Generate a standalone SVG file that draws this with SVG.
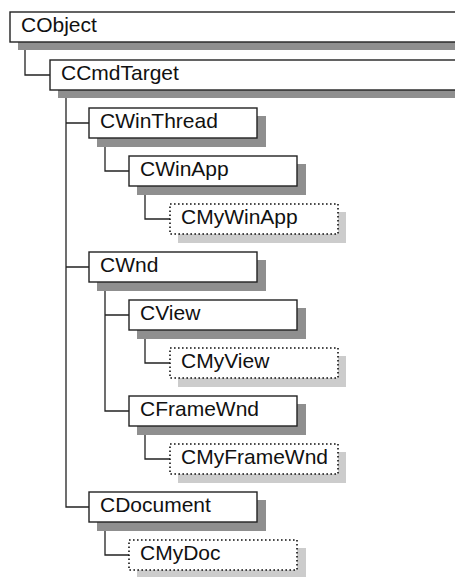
<svg xmlns="http://www.w3.org/2000/svg" width="455" height="577" viewBox="0 0 455 577">
<style>
.sh{fill:#8f8f8f}
.shl{fill:#cccccc}
.bx{fill:#fff;stroke:#222;stroke-width:1.4}
.dt{fill:#fff;stroke:#111;stroke-width:1.6;stroke-dasharray:1.6 2.4}
.t{font-family:"Liberation Sans",Arial,sans-serif;font-size:21px;fill:#111}
.c{fill:none;stroke:#222;stroke-width:1.3}
</style>
<rect width="455" height="577" fill="#fff"/>
<g id="connectors">
<path class="c" d="M25,42V75H50"/>
<path class="c" d="M66,90V507H89M66,123H89M66,267H89"/>
<path class="c" d="M105,138V171H129"/>
<path class="c" d="M145,186V219H170"/>
<path class="c" d="M105,282V411H129M105,315H129"/>
<path class="c" d="M145,330V363H170"/>
<path class="c" d="M145,426V459H170"/>
<path class="c" d="M105,522V555H129"/>
</g>
<g id="CObject"><rect class="sh" x="18" y="20" width="445" height="30"/><rect class="bx" x="10" y="12" width="450" height="30"/><text class="t" x="21" y="32">CObject</text></g>
<g id="CCmdTarget"><rect class="sh" x="58" y="68" width="405" height="30"/><rect class="bx" x="50" y="60" width="410" height="30"/><text class="t" x="61" y="80">CCmdTarget</text></g>
<g id="CWinThread"><rect class="sh" x="97" y="116" width="169" height="31"/><rect class="bx" x="89" y="108" width="168" height="30"/><text class="t" x="100" y="128">CWinThread</text></g>
<g id="CWinApp"><rect class="sh" x="137" y="164" width="169" height="31"/><rect class="bx" x="129" y="156" width="168" height="30"/><text class="t" x="140" y="176">CWinApp</text></g>
<g id="CMyWinApp"><rect class="shl" x="178" y="212" width="168" height="31"/><rect class="dt" x="170" y="204" width="168" height="30"/><text class="t" x="181" y="224">CMyWinApp</text></g>
<g id="CWnd"><rect class="sh" x="97" y="260" width="169" height="31"/><rect class="bx" x="89" y="252" width="168" height="30"/><text class="t" x="100" y="272">CWnd</text></g>
<g id="CView"><rect class="sh" x="137" y="308" width="169" height="31"/><rect class="bx" x="129" y="300" width="168" height="30"/><text class="t" x="140" y="320">CView</text></g>
<g id="CMyView"><rect class="shl" x="178" y="356" width="168" height="31"/><rect class="dt" x="170" y="348" width="168" height="30"/><text class="t" x="181" y="368">CMyView</text></g>
<g id="CFrameWnd"><rect class="sh" x="137" y="404" width="169" height="31"/><rect class="bx" x="129" y="396" width="168" height="30"/><text class="t" x="140" y="416">CFrameWnd</text></g>
<g id="CMyFrameWnd"><rect class="shl" x="178" y="452" width="168" height="31"/><rect class="dt" x="170" y="444" width="168" height="30"/><text class="t" x="181" y="464">CMyFrameWnd</text></g>
<g id="CDocument"><rect class="sh" x="97" y="500" width="169" height="31"/><rect class="bx" x="89" y="492" width="168" height="30"/><text class="t" x="100" y="512">CDocument</text></g>
<g id="CMyDoc"><rect class="shl" x="137" y="548" width="169" height="31"/><rect class="dt" x="129" y="540" width="168" height="30"/><text class="t" x="140" y="560">CMyDoc</text></g>
</svg>
